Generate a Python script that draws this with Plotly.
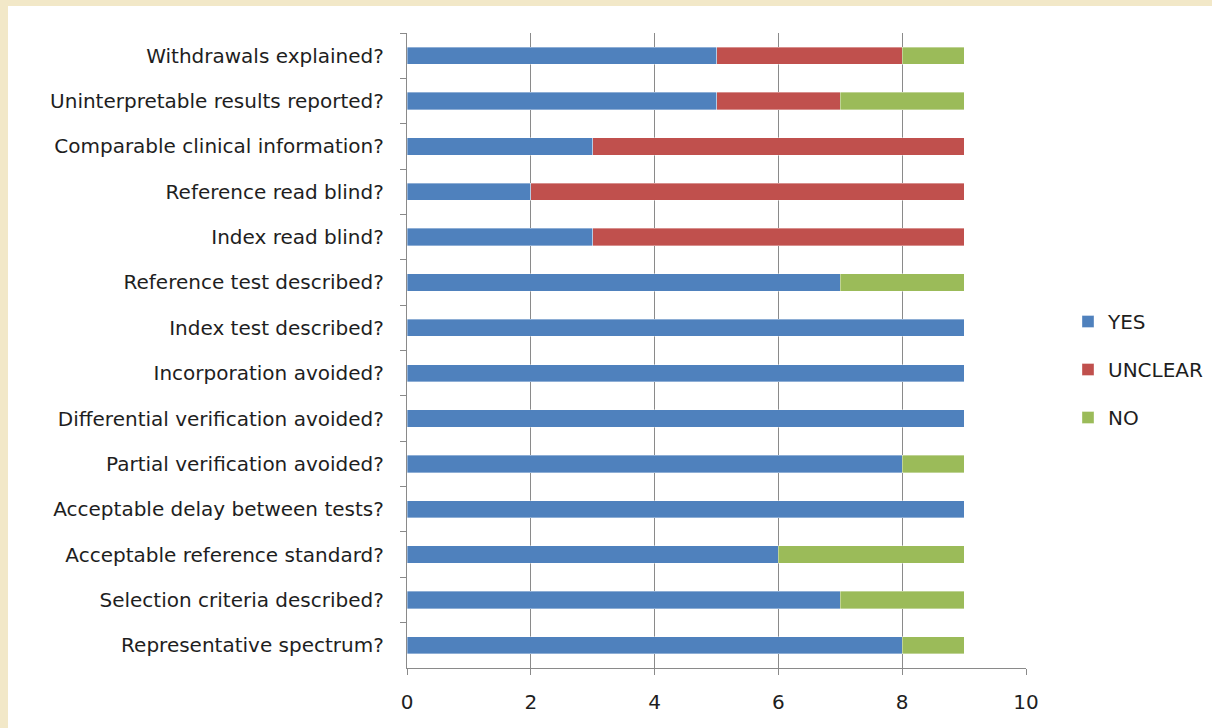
import plotly.graph_objects as go

# QUADAS quality items, listed top to bottom
items = [
    "Withdrawals explained?",
    "Uninterpretable results reported?",
    "Comparable clinical information?",
    "Reference read blind?",
    "Index read blind?",
    "Reference test described?",
    "Index test described?",
    "Incorporation avoided?",
    "Differential verification avoided?",
    "Partial verification avoided?",
    "Acceptable delay between tests?",
    "Acceptable reference standard?",
    "Selection criteria described?",
    "Representative spectrum?",
]

yes_counts = [5, 5, 3, 2, 3, 7, 9, 9, 9, 8, 9, 6, 7, 8]
unclear_counts = [3, 2, 6, 7, 6, 0, 0, 0, 0, 0, 0, 0, 0, 0]
no_counts = [1, 2, 0, 0, 0, 2, 0, 0, 0, 1, 0, 3, 2, 1]

x_ticks = [0, 2, 4, 6, 8, 10]

series = [
    ("YES", yes_counts, "#4F81BD"),
    ("UNCLEAR", unclear_counts, "#C0504D"),
    ("NO", no_counts, "#9BBB59"),
]

FONT = "DejaVu Sans"
FS = 20
TEXT = "#1e1e1e"
GRID = "#8a8a8a"

fig = go.Figure()
for name, vals, color in series:
    fig.add_trace(go.Bar(
        y=items,
        x=vals,
        name=name,
        orientation="h",
        legendgroup=name,
        marker=dict(color=color, line=dict(color="rgba(255,255,255,0.45)", width=0.8)),
    ))

# plot area spans 407..1026 px horizontally and 33..668 px vertically
L, R, T, B = 407, 186, 33, 60
W, H = 1212, 728
pw = W - L - R
ph = H - T - B

def px_x(p):
    return (p - L) / pw

def px_y(p):
    return (H - B - p) / ph

# white card on the parchment background
fig.add_shape(
    type="rect", xref="paper", yref="paper", layer="below",
    x0=px_x(8), x1=px_x(W + 5), y0=px_y(H + 5), y1=px_y(6),
    fillcolor="white", line=dict(width=0),
)

fig.update_layout(
    width=W,
    height=H,
    margin=dict(l=L, r=R, t=T, b=B, pad=0),
    paper_bgcolor="#F2E8C8",
    plot_bgcolor="rgba(0,0,0,0)",
    barmode="stack",
    bargap=0.62,
    font=dict(family=FONT, size=FS, color=TEXT),
    showlegend=True,
    legend=dict(
        xref="container", yref="container",
        x=1068 / W, y=1 - 302 / H, xanchor="left", yanchor="top",
        traceorder="grouped", tracegroupgap=19,
        font=dict(family=FONT, size=FS, color=TEXT),
        bgcolor="rgba(0,0,0,0)",
        itemwidth=30,
    ),
    xaxis=dict(
        range=[0, 10],
        tickvals=x_ticks,
        showgrid=True,
        gridcolor=GRID,
        gridwidth=1.3,
        zeroline=False,
        showline=True,
        linecolor=GRID,
        linewidth=1.3,
        ticks="outside",
        ticklen=6,
        tickcolor=GRID,
        tickwidth=1.3,
        ticklabelstandoff=10,
        tickfont=dict(family=FONT, size=FS, color=TEXT),
    ),
    yaxis=dict(
        autorange="reversed",
        showgrid=False,
        showline=True,
        linecolor=GRID,
        linewidth=1.3,
        ticks="outside",
        tickson="boundaries",
        ticklen=6,
        tickcolor=GRID,
        tickwidth=1.3,
        ticklabelstandoff=18,
        tickfont=dict(family=FONT, size=FS, color=TEXT),
    ),
)

fig.write_html("out.html")
